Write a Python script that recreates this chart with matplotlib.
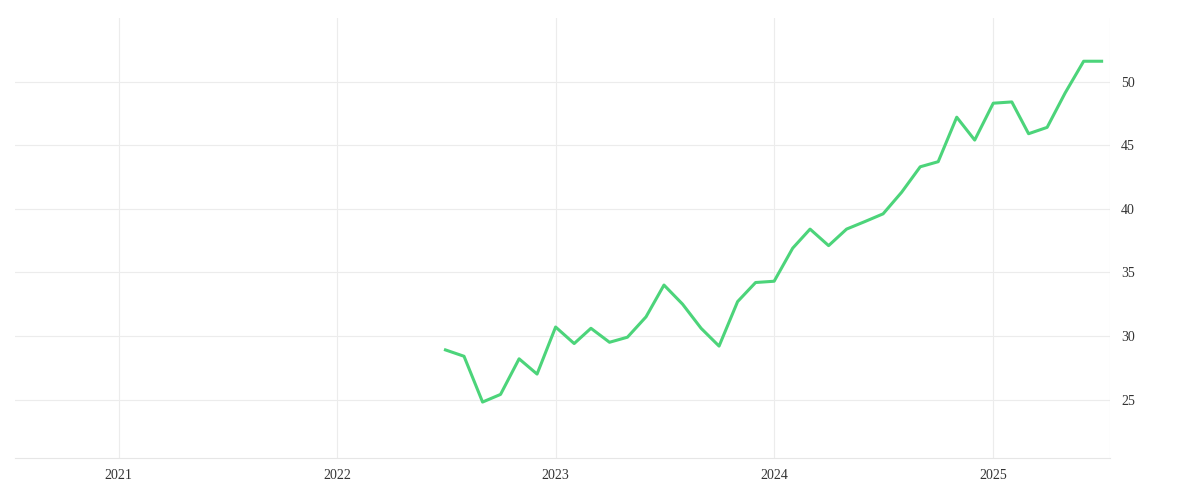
import matplotlib
matplotlib.use("Agg")
import matplotlib.pyplot as plt
import pandas as pd

dates = pd.date_range("2022-07-01", periods=37, freq="MS")
values = [28.9, 28.4, 24.8, 25.4, 28.2, 27.0, 30.7, 29.4, 30.6, 29.5, 29.9, 31.5,
          34.0, 32.5, 30.6, 29.2, 32.7, 34.2, 34.3, 36.9, 38.4, 37.1, 38.4, 39.0,
          39.6, 41.3, 43.3, 43.7, 47.2, 45.4, 48.3, 48.4, 45.9, 46.4, 49.1, 51.6, 51.6]
years = [2021, 2022, 2023, 2024, 2025]
yticks = [25, 30, 35, 40, 45, 50]

plt.rcParams['font.family'] = ['Liberation Serif', 'DejaVu Serif']
fig = plt.figure(figsize=(12, 5), dpi=100)
ax = fig.add_axes([0.0125, 0.084, 0.9125, 0.88])
ax.plot(dates, values, color="#4cd47a", lw=2.2)
ax.set_xlim(pd.Timestamp("2020-07-12"), pd.Timestamp("2025-07-15"))
ax.set_ylim(20.4, 55.0)
ax.set_xticks([pd.Timestamp(f"{y}-01-01") for y in years])
ax.set_xticklabels([str(y) for y in years])
ax.set_yticks(yticks)
ax.yaxis.tick_right()
ax.tick_params(length=0, labelsize=10, colors="#333333", pad=8)
ax.grid(True, color="#ececec", lw=0.8)
for s in ["top", "left", "right"]:
    ax.spines[s].set_visible(False)
ax.spines["bottom"].set_color("#e6e6e6")
ax.axvline(ax.get_xlim()[1], color="#e6e6e6", lw=0.8)
fig.savefig("out.png")
